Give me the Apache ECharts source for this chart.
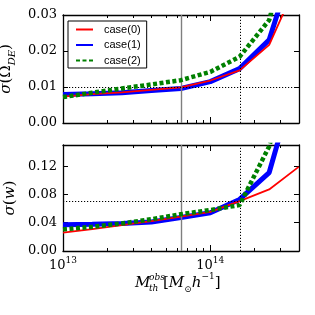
<!DOCTYPE html>
<html><head><meta charset="utf-8">
<script src="https://cdn.jsdelivr.net/npm/echarts@6/dist/echarts.min.js"></script>
<style>html,body{margin:0;padding:0;background:#fff}#c{width:315px;height:315px}</style>
</head><body><div id="c"></div>
<script>
// threshold mass M_th^obs [M_sun/h]
const mass = [1.0e13, 1.58e13, 2.51e13, 3.98e13, 6.31e13, 1.0e14, 1.58e14, 2.51e14, 3.98e14];
// sigma(Omega_DE)
const de_case0 = [0.0073, 0.0080, 0.0085, 0.0092, 0.0099, 0.0118, 0.0146, 0.0217, 0.040];
const de_case1 = [0.0079, 0.0081, 0.0084, 0.0090, 0.0096, 0.0115, 0.0151, 0.0231, 0.049];
const de_case2 = [0.0072, 0.0084, 0.0096, 0.0107, 0.0119, 0.0142, 0.0184, 0.0286, 0.060];
// sigma(w)
const w_case0 = [0.0259, 0.0310, 0.0367, 0.0424, 0.0485, 0.0555, 0.0706, 0.0871, 0.119];
const w_case1 = [0.0372, 0.0377, 0.0390, 0.0410, 0.0475, 0.0540, 0.0730, 0.1110, 0.257];
const w_case2 = [0.0306, 0.0343, 0.0390, 0.0450, 0.0520, 0.0580, 0.0650, 0.1480, 0.300];
// reference lines
const refSolidX = 6.31e13;
const refDotX = 1.6e14;
const refDotY_de = 0.0146;
const refDotY_w = 0.069;
// ticks
const xMajor = [1e13, 1e14];
const xMinor = [2e13, 3e13, 4e13, 5e13, 6e13, 7e13, 8e13, 9e13, 2e14, 3e14, 4e14];
const yTicksDE = [0, 0.01, 0.02, 0.03];
const yTicksW = [0, 0.04, 0.08, 0.12];
const names = ['case(0)', 'case(1)', 'case(2)'];

const serif = 'DejaVu Serif';
const frame = {show: true, lineStyle: {color: '#000', width: 1.3}};

function xAx(grid, pos, vals, len, label, line) {
  return {
    type: 'log', logBase: 10, min: 1e13, max: 4e14, gridIndex: grid, position: pos,
    axisLine: line ? frame : {show: false},
    axisTick: {show: true, inside: true, length: len, customValues: vals, lineStyle: {color: '#000', width: 1}},
    axisLabel: label ? {
      show: true, customValues: vals, margin: 5,
      formatter: v => '{b|10}{s|' + Math.round(Math.log10(v)) + '}',
      rich: {b: {fontFamily: serif, fontSize: 13, color: '#000', lineHeight: 16, verticalAlign: 'bottom'},
             s: {fontFamily: serif, fontSize: 9, color: '#000', lineHeight: 10, verticalAlign: 'top'}}
    } : {show: false},
    splitLine: {show: false}, minorTick: {show: false}
  };
}
function yAx(grid, pos, max, vals, label, name) {
  return {
    type: 'value', min: 0, max: max, gridIndex: grid, position: pos,
    axisLine: frame,
    axisTick: {show: true, inside: true, length: 5, customValues: vals, lineStyle: {color: '#000', width: 1}},
    axisLabel: label ? {show: true, customValues: vals, margin: 6, formatter: v => v.toFixed(2),
      fontFamily: serif, fontSize: 13, color: '#000'} : {show: false},
    splitLine: {show: false},
    name: name || '', nameLocation: 'middle', nameRotate: 90, nameGap: 41,
    nameTextStyle: {fontFamily: serif, fontSize: 15, color: '#000',
      rich: {i: {fontFamily: serif, fontStyle: 'italic', fontSize: 15, color: '#000', lineHeight: 22},
             n: {fontFamily: serif, fontSize: 15, color: '#000', lineHeight: 22},
             sub: {fontFamily: serif, fontStyle: 'italic', fontSize: 10, color: '#000', lineHeight: 10, verticalAlign: 'bottom'}}}
  };
}

const styles = [
  {color: '#ff0000', lineStyle: {width: 1.8, color: '#ff0000'}},
  {color: '#0000ff', lineStyle: {width: 5, color: '#0000ff'}},
  {color: '#008000', lineStyle: {width: 4.5, color: '#008000', type: [4, 2.5], cap: 'butt'}}
];
function line(nameIdx, data, xi, yi, z) {
  return Object.assign({
    type: 'line', name: names[nameIdx], xAxisIndex: xi, yAxisIndex: yi,
    data: mass.map((m, i) => [m, data[i]]),
    showSymbol: false, symbol: 'none', clip: true, z: z, animation: false
  }, styles[nameIdx]);
}
function refs(xi, yi, yVal) {
  const dot = {color: '#000', width: 1, type: [1.2, 1.8]};
  return {
    type: 'line', xAxisIndex: xi, yAxisIndex: yi, data: [], z: 1, animation: false,
    markLine: {silent: true, symbol: 'none', label: {show: false}, animation: false,
      data: [
        {xAxis: refSolidX, lineStyle: {color: '#7f7f7f', width: 1.4, type: 'solid'}},
        {xAxis: refDotX, lineStyle: dot},
        {yAxis: yVal, lineStyle: dot}
      ]}
  };
}

const option = {
  animation: false,
  grid: [
    {left: 63, top: 15, width: 236, height: 108, containLabel: false, outerBoundsMode: 'none'},
    {left: 63, top: 145, width: 236, height: 106, containLabel: false, outerBoundsMode: 'none'}
  ],
  xAxis: [
    xAx(0, 'bottom', xMajor, 6, false, true),
    xAx(0, 'bottom', xMinor, 3, false, false),
    xAx(0, 'top', xMajor, 6, false, true),
    xAx(0, 'top', xMinor, 3, false, false),
    xAx(1, 'bottom', xMajor, 6, true, true),
    xAx(1, 'bottom', xMinor, 3, false, false),
    xAx(1, 'top', xMajor, 6, false, true),
    xAx(1, 'top', xMinor, 3, false, false)
  ],
  yAxis: [
    yAx(0, 'left', 0.03, yTicksDE, true, '{i|σ}{n|(Ω}{sub|DE}{n|)}'),
    yAx(0, 'right', 0.03, yTicksDE, false),
    yAx(1, 'left', 0.15, yTicksW, true, '{i|σ}{n|(}{i|w}{n|)}'),
    yAx(1, 'right', 0.15, yTicksW, false)
  ],
  legend: {
    data: names, orient: 'vertical', left: 68, top: 21,
    itemWidth: 17, itemHeight: 12, itemGap: 4.5,
    itemStyle: {opacity: 0},
    padding: [3, 6, 2, 7], borderColor: '#000', borderWidth: 1, backgroundColor: '#fff',
    textStyle: {fontFamily: 'Liberation Sans', fontSize: 11, color: '#000', padding: [0, 0, 0, 6]},
    selectedMode: false, z: 20
  },
  series: [
    refs(0, 0, refDotY_de),
    line(1, de_case1, 0, 0, 3), line(0, de_case0, 0, 0, 4), line(2, de_case2, 0, 0, 5),
    refs(4, 2, refDotY_w),
    line(1, w_case1, 4, 2, 3), line(0, w_case0, 4, 2, 4), line(2, w_case2, 4, 2, 5)
  ],
  graphic: [
    {type: 'text', x: 135, y: 283, style: {text: 'M', font: 'italic 15px "DejaVu Serif"', fill: '#000', verticalAlign: 'middle'}},
    {type: 'text', x: 149, y: 278, style: {text: 'obs', font: 'italic 9px "DejaVu Serif"', fill: '#000', verticalAlign: 'middle'}},
    {type: 'text', x: 149, y: 289, style: {text: 'th', font: 'italic 9px "DejaVu Serif"', fill: '#000', verticalAlign: 'middle'}},
    {type: 'text', x: 163, y: 283, style: {
      text: '{n|[}{i|M}{sub|⊙}{i|h}{sup|−1}{n|]}', verticalAlign: 'middle',
      rich: {n: {fontFamily: serif, fontSize: 15, fill: '#000', lineHeight: 22},
             i: {fontFamily: serif, fontStyle: 'italic', fontSize: 15, fill: '#000', lineHeight: 22},
             sub: {fontFamily: serif, fontSize: 9, fill: '#000', lineHeight: 10, verticalAlign: 'bottom'},
             sup: {fontFamily: serif, fontSize: 9, fill: '#000', lineHeight: 10, verticalAlign: 'top'}}}}
  ]
};
const chart = echarts.init(document.getElementById('c'), null, {renderer: 'canvas'});
chart.setOption(option);
</script></body></html>
